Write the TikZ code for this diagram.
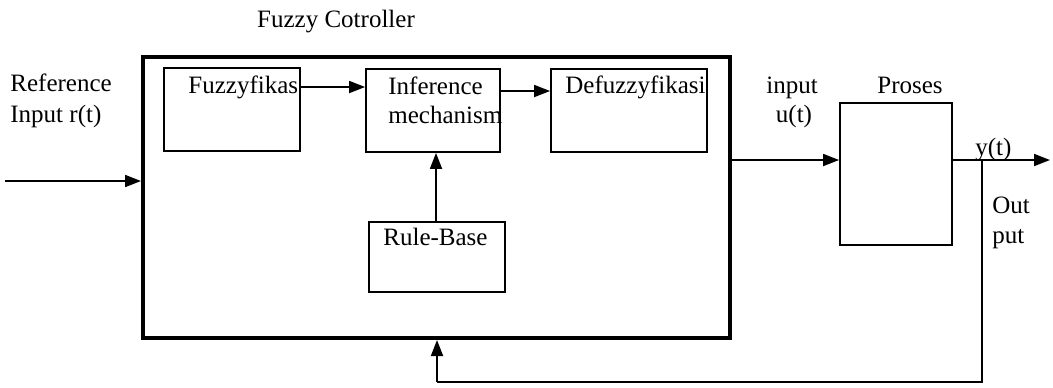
\documentclass[tikz,border=0pt]{standalone}
\usepackage{fontspec}
\setmainfont{Liberation Serif}
\usetikzlibrary{arrows.meta,fit}
\begin{document}
\begin{tikzpicture}[x=0.5pt,y=-0.5pt,
  box/.style={draw,line width=0.9pt,inner sep=0pt},
  bigbox/.style={draw,line width=2pt,inner sep=0pt},
  lbl/.style={font=\fontsize{12.5}{14.5}\selectfont,inner sep=0pt},
  arr/.style={line width=0.9pt,-{Triangle[length=8pt,width=6pt]}},
  ln/.style={line width=0.9pt}]
\useasboundingbox (0,0) rectangle (1053,387);
\fill[white] (0,0) rectangle (1053,387);
% boxes
\node[bigbox,fit={(143,57)(730,338)}] (fc) {};
\node[box,fit={(164,68)(300,151)}] (fuzz) {};
\node[box,fit={(366,69)(500,152)}] (inf) {};
\node[box,fit={(551,69)(707,152)}] (defz) {};
\node[box,fit={(369,222)(505,292)}] (rule) {};
\node[box,fit={(840,103)(952,245)}] (proses) {};
% texts
\node[lbl,anchor=base] (title) at (336,27) {Fuzzy Cotroller};
\node[lbl,anchor=base west] (ref1) at (10,91) {Reference};
\node[lbl,anchor=base west] (ref2) at (10,122) {Input r(t)};
\node[lbl,anchor=base west] (tfuzz) at (188,93) {Fuzzyfikas};
\node[lbl,anchor=base west] (tinf1) at (388,94) {Inference};
\node[lbl,anchor=base west] (tinf2) at (388,123) {mechanism};
\node[lbl,anchor=base west] (tdefz) at (565,93) {Defuzzyfikasi};
\node[lbl,anchor=base west] (trule) at (383,245) {Rule-Base};
\node[lbl,anchor=base] (tin1) at (792,93) {input};
\node[lbl,anchor=base] (tin2) at (794,122) {u(t)};
\node[lbl,anchor=base] (tpro) at (910,93) {Proses};
\node[lbl,anchor=base west] (ty) at (975,155) {y(t)};
\node[lbl,anchor=base west] (tout1) at (992,213) {Out};
\node[lbl,anchor=base west] (tout2) at (992,243) {put};
% coordinates
\coordinate (rin) at (5,181);
\coordinate (yout) at (1050,160);
\coordinate (tap) at (982,160);
\coordinate (fbr) at (982,382);
\coordinate (fbl) at (437,382);
% connectors
\draw[arr] (rin) -- (fc.west |- rin);
\draw[arr] (fuzz.east |- 0,87) -- (inf.west |- 0,87);
\draw[arr] (inf.east |- 0,91) -- (defz.west |- 0,91);
\draw[arr] (rule.north -| 436,0) -- (inf.south -| 436,0);
\draw[arr] (fc.east |- 0,160) -- (proses.west |- 0,160);
\draw[arr] (proses.east |- yout) -- (yout);
\draw[ln] (tap) -- (fbr) -- (fbl);
\draw[arr] (fbl) -- (fc.south -| fbl);
\end{tikzpicture}
\end{document}
